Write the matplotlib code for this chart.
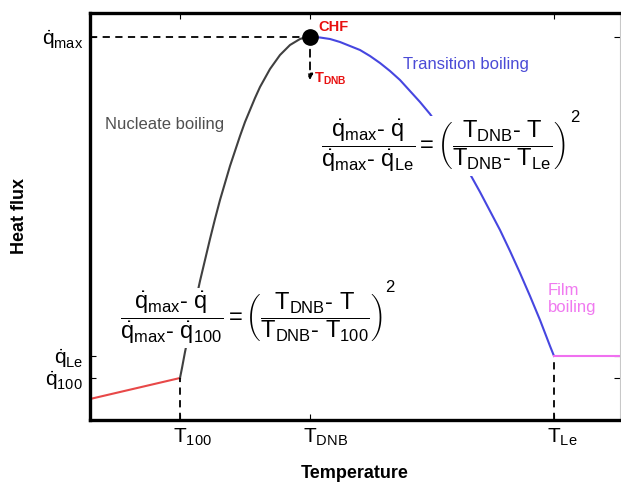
import matplotlib
matplotlib.use("Agg")
import matplotlib.pyplot as plt
from matplotlib.transforms import ScaledTranslation

plt.rcParams['font.family'] = ['Liberation Sans', 'DejaVu Sans']
plt.rcParams['mathtext.fontset'] = 'custom'
plt.rcParams['mathtext.rm'] = 'Liberation Sans'
plt.rcParams['mathtext.it'] = 'Liberation Sans:italic'
plt.rcParams['mathtext.bf'] = 'Liberation Sans:bold'

# characteristic points (arbitrary units)
T_100, T_DNB, T_LE, T_END = 90, 220, 464, 530
Q_START, Q_100, Q_LE, Q_MAX = 21, 42, 64, 383

# natural convection (red)
conv_T = [0, T_100]
conv_q = [Q_START, Q_100]

# nucleate boiling (grey)
nuc_T = [90, 92, 95, 100, 105, 110, 115, 120, 125, 130, 135, 140, 145, 150, 155,
         160, 165, 170, 175, 180, 185, 190, 195, 200, 205, 210, 215, 220]
nuc_q = [42, 52, 68, 92, 116, 139, 160, 181, 201, 220, 237, 254, 269, 284, 298,
         310, 322, 333, 342, 351, 358, 365, 370, 375, 378, 381, 382.5, 383]

# transition boiling (blue)
trans_T = [220, 230, 240, 250, 260, 270, 280, 290, 300, 310, 320, 330, 340, 350,
           360, 370, 380, 390, 400, 410, 420, 430, 440, 450, 460, 464]
trans_q = [383, 382.5, 381, 378, 374, 370, 364, 357, 349, 340, 329, 318, 306, 292,
           278, 262, 246, 228, 209, 190, 169, 147, 124, 100, 74, 64]

# film boiling (pink)
film_T = [T_LE, T_END]
film_q = [Q_LE, Q_LE]

x_ticks = [T_100, T_DNB, T_LE]
x_labels = [r'$\mathrm{T}_{\mathrm{100}}$', r'$\mathrm{T}_{\mathrm{DNB}}$', r'$\mathrm{T}_{\mathrm{Le}}$']
y_ticks = [Q_100, Q_LE, Q_MAX]
y_labels = [r'$\dot{\mathrm{q}}_{\mathrm{100}}$', r'$\dot{\mathrm{q}}_{\mathrm{Le}}$', r'$\dot{\mathrm{q}}_{\mathrm{max}}$']

fig = plt.figure(figsize=(6.21, 4.84), dpi=100)
ax = fig.add_axes([90 / 621, 64 / 484, 530 / 621, 407 / 484])
ax.set_xlim(0, T_END)
ax.set_ylim(0, 407)

ax.plot(conv_T, conv_q, color='#e84848', lw=1.5, zorder=2)
ax.plot(nuc_T, nuc_q, color='#404040', lw=1.5, zorder=2)
ax.plot(trans_T, trans_q, color='#4646e0', lw=1.5, zorder=2)
ax.plot(film_T, film_q, color='#f070f0', lw=1.5, zorder=2)

# guide lines
dash = (0, (4, 3))
ax.plot([0, T_DNB], [Q_MAX, Q_MAX], color='black', ls=dash, lw=1.3, zorder=2)
ax.plot([T_100, T_100], [0, Q_100], color='black', ls=dash, lw=1.3, zorder=2)
ax.plot([T_LE, T_LE], [0, Q_LE - 4], color='black', ls=dash, lw=1.3, zorder=2)
ax.annotate('', xy=(T_DNB, 340), xytext=(T_DNB, Q_MAX),
            arrowprops=dict(arrowstyle='-|>', color='black', lw=1.3, ls=dash,
                            mutation_scale=8, shrinkA=0, shrinkB=0), zorder=2)
ax.plot([T_DNB], [Q_MAX], 'o', color='black', ms=11, zorder=4)

ax.text(T_DNB + 8, Q_MAX + 10, 'CHF', color='#e81010', fontsize=10.5,
        fontweight='bold', va='center', ha='left')
ax.text(T_DNB + 4, 341, r'$\mathbf{T}_{\mathbf{DNB}}$', color='#e81010', fontsize=10.5,
        va='center', ha='left')

ax.text(15, 296, 'Nucleate boiling', color='#505050', fontsize=12, va='center', ha='left')
ax.text(313, 355, 'Transition boiling', color='#4b4bd6', fontsize=12, va='center', ha='left')
ax.text(458, 121, 'Film\nboiling', color='#f07af0', fontsize=12, va='center', ha='left',
        linespacing=1.15)

eq1 = (r'$\dfrac{\dot{\mathrm{q}}_{\mathrm{max}}\text{-}\ \dot{\mathrm{q}}}'
       r'{\dot{\mathrm{q}}_{\mathrm{max}}\text{-}\ \dot{\mathrm{q}}_{\mathrm{100}}}'
       r' = \left(\dfrac{\mathrm{T}_{\mathrm{DNB}}\text{-}\ \mathrm{T}}'
       r'{\mathrm{T}_{\mathrm{DNB}}\text{-}\ \mathrm{T}_{\mathrm{100}}}\right)$')
eq2 = (r'$\dfrac{\dot{\mathrm{q}}_{\mathrm{max}}\text{-}\ \dot{\mathrm{q}}}'
       r'{\dot{\mathrm{q}}_{\mathrm{max}}\text{-}\ \dot{\mathrm{q}}_{\mathrm{Le}}}'
       r' = \left(\dfrac{\mathrm{T}_{\mathrm{DNB}}\text{-}\ \mathrm{T}}'
       r'{\mathrm{T}_{\mathrm{DNB}}\text{-}\ \mathrm{T}_{\mathrm{Le}}}\right)$')
ax.text(162, 102, eq1, fontsize=17, ha='center', va='center', zorder=3,
        bbox=dict(fc='white', ec='none', pad=1))
ax.text(353, 274, eq2, fontsize=17, ha='center', va='center', zorder=3,
        bbox=dict(fc='white', ec='none', pad=1))
ax.text(295, 133, '2', fontsize=12, ha='left', va='center', zorder=3)
ax.text(480, 302, '2', fontsize=12, ha='left', va='center', zorder=3)

ax.set_xticks(x_ticks)
ax.set_xticklabels(x_labels, fontsize=15)
ax.set_yticks(y_ticks)
ax.set_yticklabels(y_labels, fontsize=15)
ax.tick_params(direction='in', length=4, width=0.8, top=True, right=True, pad=5)
shift = ScaledTranslation(-0.07, 0, fig.dpi_scale_trans)
for lbl in ax.get_xticklabels():
    lbl.set_ha('left')
    lbl.set_transform(lbl.get_transform() + shift)

for side in ['left', 'top', 'bottom']:
    ax.spines[side].set_linewidth(2.4)
ax.spines['right'].set_linewidth(0.8)
ax.spines['right'].set_color('#c8c8c8')

ax.set_xlabel('Temperature', fontsize=13, fontweight='bold', labelpad=12)
ax.set_ylabel('Heat flux', fontsize=13, fontweight='bold', labelpad=10)

fig.savefig('out.png', dpi=100)
